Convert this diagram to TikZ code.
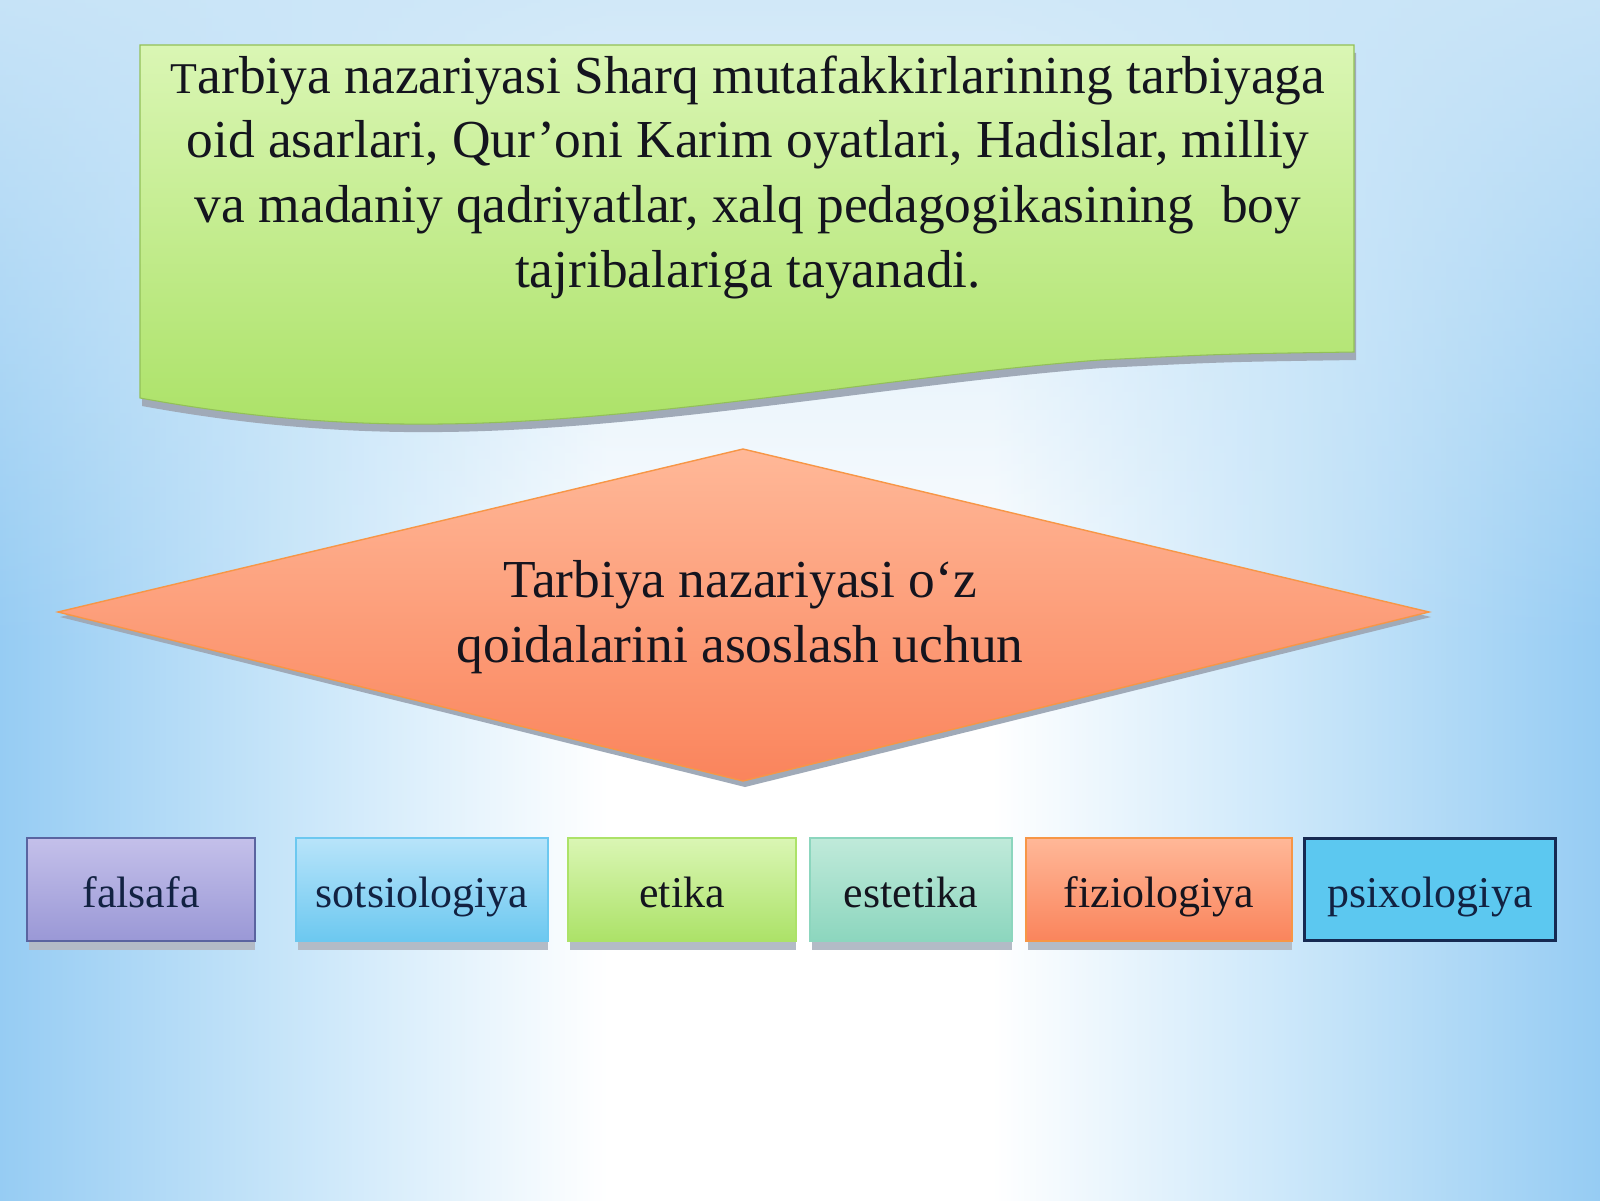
\documentclass[tikz,border=0pt]{standalone}
\usepackage{fontspec}
\setmainfont{Liberation Serif}
\usepackage{tikz}
\usetikzlibrary{fadings}

\definecolor{skyedge}{RGB}{150,204,243}
\definecolor{skymid}{RGB}{205,232,250}
\definecolor{skytop}{RGB}{204,230,248}
\definecolor{greentop}{RGB}{218,246,180}
\definecolor{greenbot}{RGB}{172,226,104}
\definecolor{salmontop}{RGB}{255,184,152}
\definecolor{salmonbot}{RGB}{250,132,92}
\definecolor{salmonline}{RGB}{247,150,70}
\definecolor{lavtop}{RGB}{196,192,234}
\definecolor{lavbot}{RGB}{154,152,214}
\definecolor{lavline}{RGB}{90,100,160}
\definecolor{bluetop}{RGB}{184,228,250}
\definecolor{bluebot}{RGB}{108,200,240}
\definecolor{tealtop}{RGB}{192,234,218}
\definecolor{tealbot}{RGB}{140,214,190}
\definecolor{psixfill}{RGB}{92,200,240}
\definecolor{navy}{RGB}{22,42,82}
\definecolor{txt}{RGB}{20,20,30}
\definecolor{shadowgray}{RGB}{160,170,184}

\pgfdeclarehorizontalshading{bgsky}{100bp}{color(0bp)=(skyedge); color(25bp)=(skyedge);
  color(35bp)=(skymid); color(44bp)=(white); color(56bp)=(white); color(65bp)=(skymid);
  color(75bp)=(skyedge); color(100bp)=(skyedge)}

\newcommand{\ondapath}{(1.40,11.55) -- (13.54,11.55) -- (13.54,8.48)
  .. controls (12.2,8.46) .. (11.0,8.40)
  .. controls (9.0,8.25) and (6.5,7.78) .. (4.4,7.76)
  .. controls (3.6,7.75) and (2.6,7.80) .. (1.40,8.02) -- cycle}

\tikzset{
  bigtext/.style={font=\fontsize{15.2}{18.4}\selectfont, text=txt, align=center},
  box/.style={minimum height=1.03cm, inner sep=0pt, line width=0.6pt,
    font=\fontsize{12.5}{15}\selectfont, text=txt, text height=11pt, text depth=1pt},
  boxshadow/.style={fill=shadowgray!80, draw=none}
}

\begin{document}
\begin{tikzpicture}
  \useasboundingbox (0,0) rectangle (16,12);
  % fondo
  \shade[shading=bgsky] (0,0) rectangle (16,12);
  \fill[skytop, path fading=south, opacity=0.9] (0,5.5) rectangle (16,12);

  % recuadro verde
  \fill[shadowgray, xshift=0.02cm, yshift=-0.08cm] \ondapath;
  \shade[top color=greentop, bottom color=greenbot, draw=greenbot!85!black, line width=0.3pt] \ondapath;
  \node[bigtext] (sharq) at (7.48,10.23) {{\fontsize{12.5}{14}\selectfont T}arbiya nazariyasi Sharq mutafakkirlarining tarbiyaga\\
    oid asarlari, Qur’oni Karim oyatlari, Hadislar, milliy\\
    va madaniy qadriyatlar, xalq pedagogikasining\ \ boy\\
    tajribalariga tayanadi.};

  % rombo
  \fill[shadowgray] (0.60,5.83) -- (7.45,7.46) -- (14.31,5.83) -- (7.45,4.13) -- cycle;
  \shade[top color=salmontop, bottom color=salmonbot, draw=salmonline, line width=0.4pt]
     (0.58,5.88) -- (7.43,7.51) -- (14.29,5.88) -- (7.43,4.19) -- cycle;
  \node[bigtext] (asos) at (7.40,5.83) {Tarbiya nazariyasi o‘z\\qoidalarini asoslash uchun};

  % fanlar
  \fill[boxshadow] (0.29,2.59) rectangle (2.55,2.50);
  \fill[boxshadow] (2.98,2.59) rectangle (5.48,2.50);
  \fill[boxshadow] (5.70,2.59) rectangle (7.96,2.50);
  \fill[boxshadow] (8.12,2.59) rectangle (10.12,2.50);
  \fill[boxshadow] (10.28,2.59) rectangle (12.92,2.50);

  \node[box, minimum width=2.28cm, top color=lavtop, bottom color=lavbot, draw=lavline, text=navy!80!black] (falsafa) at (1.41,3.105) {falsafa};
  \node[box, minimum width=2.52cm, top color=bluetop, bottom color=bluebot, draw=bluebot, text=navy!80!black] (sotsio) at (4.22,3.105) {sotsiologiya};
  \node[box, minimum width=2.28cm, top color=greentop, bottom color=greenbot, draw=greenbot] (etika) at (6.82,3.105) {etika};
  \node[box, minimum width=2.02cm, top color=tealtop, bottom color=tealbot, draw=tealbot] (estetika) at (9.11,3.105) {estetika};
  \node[box, minimum width=2.66cm, top color=salmontop, bottom color=salmonbot, draw=salmonline] (fizio) at (11.59,3.105) {fiziologiya};
  \node[box, minimum width=2.51cm, minimum height=1.02cm, fill=psixfill, draw=navy, line width=0.9pt, text=navy!80!black] (psix) at (14.30,3.105) {psixologiya};
\end{tikzpicture}
\end{document}
